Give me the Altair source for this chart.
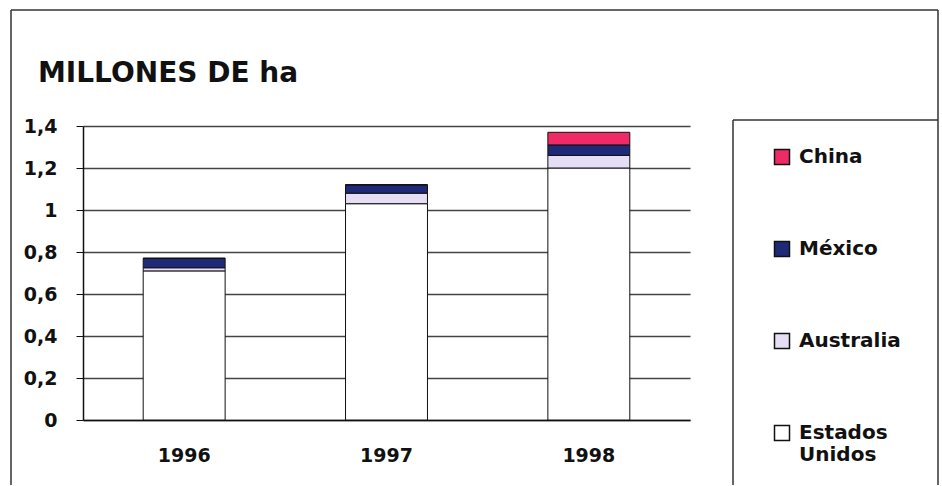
import altair as alt
import pandas as pd

years = ["1996", "1997", "1998"]
series = ["China", "México", "Australia", "Estados Unidos"]
colors = ["#ee2b66", "#1e2a78", "#e6def5", "#ffffff"]
estados_unidos = [0.71, 1.03, 1.20]
australia = [0.015, 0.05, 0.06]
mexico = [0.045, 0.04, 0.05]
china = [0.0, 0.0, 0.06]
y_ticks = [0, 0.2, 0.4, 0.6, 0.8, 1.0, 1.2, 1.4]
title_text = "MILLONES DE ha"

rows = []
for i, yr in enumerate(years):
    for name, vals, rank in [("Estados Unidos", estados_unidos, 0), ("Australia", australia, 1),
                             ("México", mexico, 2), ("China", china, 3)]:
        rows.append({"year": yr, "pais": name, "valor": vals[i], "rank": rank})
df = pd.DataFrame(rows)

FONT = "DejaVu Sans"

label_expr = "datum.label == 'Estados Unidos' ? ['Estados', 'Unidos'] : datum.label"

bars = alt.Chart(df).mark_bar(stroke="#111111", strokeWidth=1).encode(
    x=alt.X("year:N", sort=years,
            scale=alt.Scale(paddingInner=0.595, paddingOuter=0.2975),
            axis=alt.Axis(title=None, labelAngle=0, labelFont=FONT, labelFontSize=19,
                          labelFontWeight="bold", labelColor="#111111", labelPadding=26,
                          ticks=False, domainColor="#111111", domainWidth=1.5)),
    y=alt.Y("valor:Q", stack="zero",
            scale=alt.Scale(domain=[0, 1.4], nice=False),
            axis=alt.Axis(title=None, values=y_ticks,
                          labelExpr="replace(format(datum.value, '.1~f'), '.', ',')",
                          labelFont=FONT, labelFontSize=19, labelFontWeight="bold",
                          labelColor="#111111", labelPadding=19, tickSize=7,
                          tickColor="#111111", domainColor="#111111", domainWidth=1.5,
                          grid=True, gridColor="#444444", gridWidth=1.3)),
    color=alt.Color("pais:N", scale=alt.Scale(domain=series, range=colors),
                    legend=alt.Legend(title=None, orient="none", legendX=689, legendY=21,
                                      symbolType="square", symbolSize=225,
                                      symbolStrokeColor="#111111", symbolStrokeWidth=1.5,
                                      labelBaseline="middle",
                                      labelFont=FONT, labelFontSize=20, labelFontWeight="bold",
                                      labelColor="#111111", labelOffset=7, labelLimit=300,
                                      rowPadding=70, padding=0,
                                      labelExpr=label_expr)),
    order=alt.Order("rank:Q", sort="ascending"),
)

one = alt.Data(values=[{}])
frame_color = "#333333"
frame_left = alt.Chart(one).mark_rule(color=frame_color, strokeWidth=1.5).encode(
    x=alt.value(-72), y=alt.value(-116), y2=alt.value(359))
frame_top = alt.Chart(one).mark_rule(color=frame_color, strokeWidth=1.5).encode(
    y=alt.value(-116), x=alt.value(-72), x2=alt.value(855))
frame_right = alt.Chart(one).mark_rule(color=frame_color, strokeWidth=1.5).encode(
    x=alt.value(855), y=alt.value(-116), y2=alt.value(359))
leg_left = alt.Chart(one).mark_rule(color=frame_color, strokeWidth=1.5).encode(
    x=alt.value(650), y=alt.value(-6), y2=alt.value(359))
leg_top = alt.Chart(one).mark_rule(color=frame_color, strokeWidth=1.5).encode(
    y=alt.value(-6), x=alt.value(650), x2=alt.value(855))
title = alt.Chart(one).mark_text(align="left", baseline="alphabetic", font=FONT,
                                 fontSize=28, fontWeight="bold", color="#111111").encode(
    x=alt.value(-45), y=alt.value(-44), text=alt.value(title_text))

chart = alt.layer(bars, frame_left, frame_top, frame_right, leg_left, leg_top, title).properties(
    width=607, height=294,
    padding={"left": 10, "top": 9, "right": 0, "bottom": 0},
    background="white",
).configure_view(stroke=None)

chart.save("out.html", embed_options={"renderer": "svg", "actions": False})
